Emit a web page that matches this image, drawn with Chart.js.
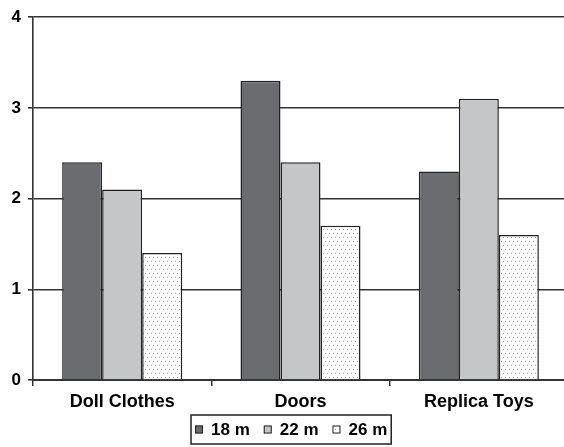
<!DOCTYPE html>
<html>
<head>
<meta charset="utf-8">
<script src="https://cdn.jsdelivr.net/npm/chart.js@4"></script>
<style>
  html, body { margin: 0; padding: 0; background: #fff; overflow: hidden; width: 564px; height: 447px; }
  #wrap { position: absolute; left: 0; top: 0; width: 572px; height: 447px; }
</style>
</head>
<body>
<div id="wrap"><canvas id="c" width="572" height="447"></canvas></div>
<script>
const categories = ["Doll Clothes", "Doors", "Replica Toys"];
const seriesLabels = ["18 m", "22 m", "26 m"];
const s18 = [2.4, 3.3, 2.3];
const s22 = [2.1, 2.4, 3.1];
const s26 = [1.4, 1.7, 1.6];
const yTicks = [0, 1, 2, 3, 4];

function makeDots() {
  const t = document.createElement('canvas');
  t.width = 8; t.height = 8;
  const g = t.getContext('2d');
  g.fillStyle = '#ffffff'; g.fillRect(0, 0, 8, 8);
  g.fillStyle = '#a8a8a8';
  g.fillRect(1, 1, 1, 1); g.fillRect(5, 1, 1, 1);
  g.fillRect(3, 5, 1, 1); g.fillRect(7, 5, 1, 1);
  return document.getElementById('c').getContext('2d').createPattern(t, 'repeat');
}
const dots = makeDots();
const colors = ['#6b6c70', '#c5c6c8', dots];

const FONT = "'Liberation Sans', Arial, sans-serif";

const legendPlugin = {
  id: 'boxLegend',
  afterDraw(chart) {
    const ctx = chart.ctx;
    ctx.save();
    ctx.font = "bold 17px " + FONT;
    const sq = 8, gapSq = 8, gapItem = 14, padX = 4;
    const items = chart.data.datasets.map(d => ({ label: d.label, color: d.backgroundColor, w: ctx.measureText(d.label).width }));
    let total = padX * 2;
    items.forEach((it, i) => { total += sq + gapSq + it.w + (i < items.length - 1 ? gapItem : 0); });
    const cx = 291;
    const left = Math.round(cx - total / 2), top = 415, h = 29;
    ctx.strokeStyle = '#222'; ctx.lineWidth = 1.5;
    ctx.strokeRect(left, top, total, h);
    let x = left + padX;
    const midY = top + h / 2;
    items.forEach(it => {
      ctx.fillStyle = it.color;
      ctx.fillRect(x, midY - sq / 2, sq, sq);
      ctx.strokeStyle = '#222'; ctx.lineWidth = 1;
      ctx.strokeRect(x + 0.5, midY - sq / 2 + 0.5, sq - 1, sq - 1);
      x += sq + gapSq;
      ctx.fillStyle = '#000';
      ctx.textBaseline = 'middle';
      ctx.fillText(it.label, x, midY + 1);
      x += it.w + gapItem;
    });
    ctx.restore();
  }
};

new Chart(document.getElementById('c'), {
  type: 'bar',
  data: {
    labels: categories,
    datasets: [
      { label: seriesLabels[0], data: s18, backgroundColor: colors[0] },
      { label: seriesLabels[1], data: s22, backgroundColor: colors[1] },
      { label: seriesLabels[2], data: s26, backgroundColor: colors[2] }
    ]
  },
  options: {
    responsive: false,
    animation: false,
    devicePixelRatio: 1,
    layout: { padding: { top: 14, right: 4, bottom: 32, left: 0 } },
    datasets: {
      bar: {
        borderColor: '#222',
        borderWidth: 1.5,
        categoryPercentage: 0.673,
        barPercentage: 1.0
      }
    },
    plugins: {
      legend: { display: false },
      tooltip: { enabled: false }
    },
    scales: {
      x: {
        offset: true,
        grid: { display: true, drawOnChartArea: false, drawTicks: true, tickLength: 6, color: '#333', lineWidth: 1.5, offset: true },
        border: { display: true, color: '#333', width: 2 },
        ticks: { color: '#000', font: { family: FONT, size: 18, weight: 'bold' }, padding: 5 },
        afterFit(s) { s.height = 35; }
      },
      y: {
        min: 0, max: 4,
        afterBuildTicks(s) { s.ticks = yTicks.map(v => ({ value: v })); },
        grid: { color: '#333', lineWidth: 1.6, tickLength: 5, drawTicks: true },
        border: { display: true, color: '#333', width: 1.6 },
        ticks: { color: '#000', font: { family: FONT, size: 17, weight: 'bold' }, padding: 7 },
        afterFit(s) { s.width = 33; }
      }
    }
  },
  plugins: [legendPlugin]
});
</script>
</body>
</html>
